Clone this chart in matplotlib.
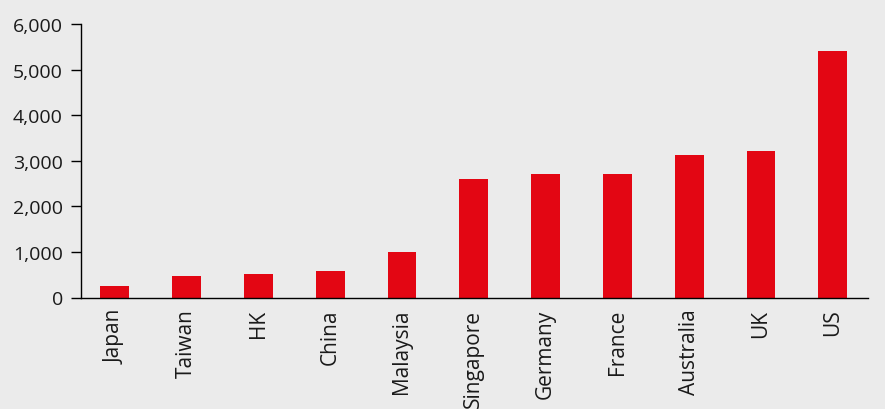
import matplotlib
matplotlib.use("Agg")
import matplotlib.pyplot as plt
from matplotlib.ticker import FuncFormatter

countries = ["Japan", "Taiwan", "HK", "China", "Malaysia", "Singapore",
             "Germany", "France", "Australia", "UK", "US"]
values = [260, 480, 520, 575, 1000, 2600, 2700, 2700, 3120, 3220, 5400]
y_ticks = [0, 1000, 2000, 3000, 4000, 5000, 6000]

plt.rcParams["font.family"] = ["Open Sans", "DejaVu Sans"]

bg = "#ebebeb"
fig = plt.figure(figsize=(8.85, 4.10), dpi=100, facecolor=bg)
ax = fig.add_axes([81 / 885, 1 - 298.5 / 410, (868 - 81) / 885, (298.5 - 25) / 410])
ax.set_facecolor(bg)

x = list(range(len(countries)))
ax.bar(x, values, width=0.4, color="#e30613")

ax.set_xlim(-0.47, len(countries) - 0.51)
ax.set_ylim(0, 6000)
ax.set_yticks(y_ticks)
ax.yaxis.set_major_formatter(FuncFormatter(lambda v, p: f"{int(v):,}"))
ax.set_xticks(x)
ax.set_xticklabels(countries, rotation=90, va="top", ha="center")

for s in ["top", "right"]:
    ax.spines[s].set_visible(False)
for s in ["left", "bottom"]:
    ax.spines[s].set_color("black")
    ax.spines[s].set_linewidth(1.0)

ax.tick_params(axis="y", length=7, width=1, color="black", labelsize=14,
               labelcolor="#1a1a1a", pad=6)
ax.tick_params(axis="x", length=0, labelsize=15, labelcolor="#1a1a1a", pad=8)

fig.savefig("out.png", dpi=100, facecolor=bg)
